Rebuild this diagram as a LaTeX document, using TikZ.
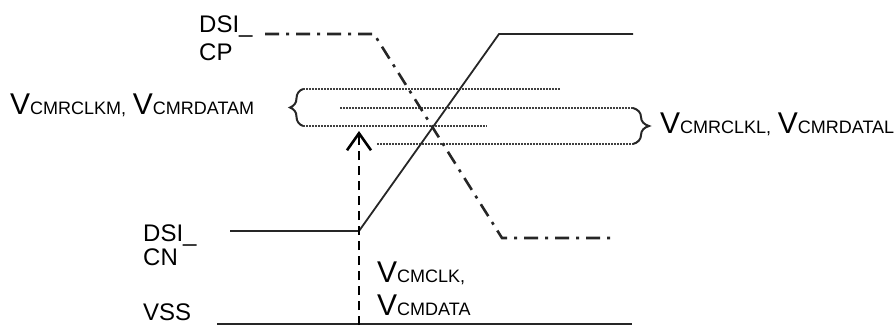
\documentclass[tikz,border=0pt]{standalone}
\usepackage{fontspec}
\setmainfont{Liberation Sans}
\usetikzlibrary{arrows.meta,decorations.pathreplacing}
\newcommand{\Vsub}[1]{{\fontsize{30}{30}\selectfont V}{\fontsize{18}{18}\selectfont #1}}
\newcommand{\Vcomma}{{\fontsize{18}{18}\selectfont ,}}
\begin{document}
\begin{tikzpicture}[x=1pt,y=-1pt,
  lbl/.style={inner sep=0pt, anchor=base west, font=\fontsize{24}{28}\selectfont},
  sig/.style={line width=1.8pt, black!85},
  dashdot/.style={line width=2.6pt, black!85, dash pattern=on 14pt off 7pt on 3pt off 7pt},
  dots/.style={line width=1.4pt, black!75, dash pattern=on 1.6pt off 1.4pt},
  vdash/.style={line width=2.4pt, dash pattern=on 9pt off 6pt},
  bracestyle/.style={line width=2pt, black!85, decorate, decoration={brace, amplitude=#1}}]
\useasboundingbox (0,0) rectangle (896,325);

% labels
\node[lbl] (cp1) at (199,32) {DSI\_};
\node[lbl] (cp2) at (199,60) {CP};
\node[lbl] (cn1) at (143,241) {DSI\_};
\node[lbl] (cn2) at (143,265) {CN};
\node[lbl] (vss) at (143,320) {VSS};
\node[lbl] (vm) at (10,114) {\Vsub{CMRCLKM}\Vcomma\ \Vsub{CMRDATAM}};
\node[lbl] (vl) at (660,133) {\Vsub{CMRCLKL}\Vcomma\ \Vsub{CMRDATAL}};
\node[lbl] (vc1) at (377,282) {\Vsub{CMCLK}\Vcomma};
\node[lbl] (vc2) at (377,315) {\Vsub{CMDATA}};

% key points
\coordinate (cpA) at (265,34);
\coordinate (cpB) at (374,34);
\coordinate (cpC) at (502,238);
\coordinate (cpD) at (610,238);
\coordinate (cnA) at (230,231);
\coordinate (cnB) at (359,231);
\coordinate (cnC) at (499,34);
\coordinate (cnD) at (633,34);
\coordinate (vssA) at (217,324);
\coordinate (vssB) at (632,324);
\coordinate (arrB) at (359,325);
\coordinate (arrT) at (359,131);
\coordinate (d1a) at (303,89);  \coordinate (d1b) at (560,89);
\coordinate (d2a) at (340,108); \coordinate (d2b) at (633,108);
\coordinate (d3a) at (303,126); \coordinate (d3b) at (487,126);
\coordinate (d4a) at (377,144); \coordinate (d4b) at (633,144);

% dotted levels
\draw[dots] (d1a) -- (d1b);
\draw[dots] (d2a) -- (d2b);
\draw[dots] (d3a) -- (d3b);
\draw[dots] (d4a) -- (d4b);

% braces
\draw[bracestyle=13pt] (d3a) -- (d1a);
\draw[bracestyle=16pt] (d2b) -- (d4b);

% signals
\draw[dashdot] (cpA) -- (cpB) -- (cpC) -- (cpD);
\draw[sig] (cnA) -- (cnB) -- (cnC) -- (cnD);
\draw[sig, line width=1.4pt] (vssA) -- (vssB);

% common-mode arrow
\draw[vdash, -{Straight Barb[length=17pt,width=24pt,line width=2.6pt]}] (arrB) -- (arrT);
\end{tikzpicture}
\end{document}
